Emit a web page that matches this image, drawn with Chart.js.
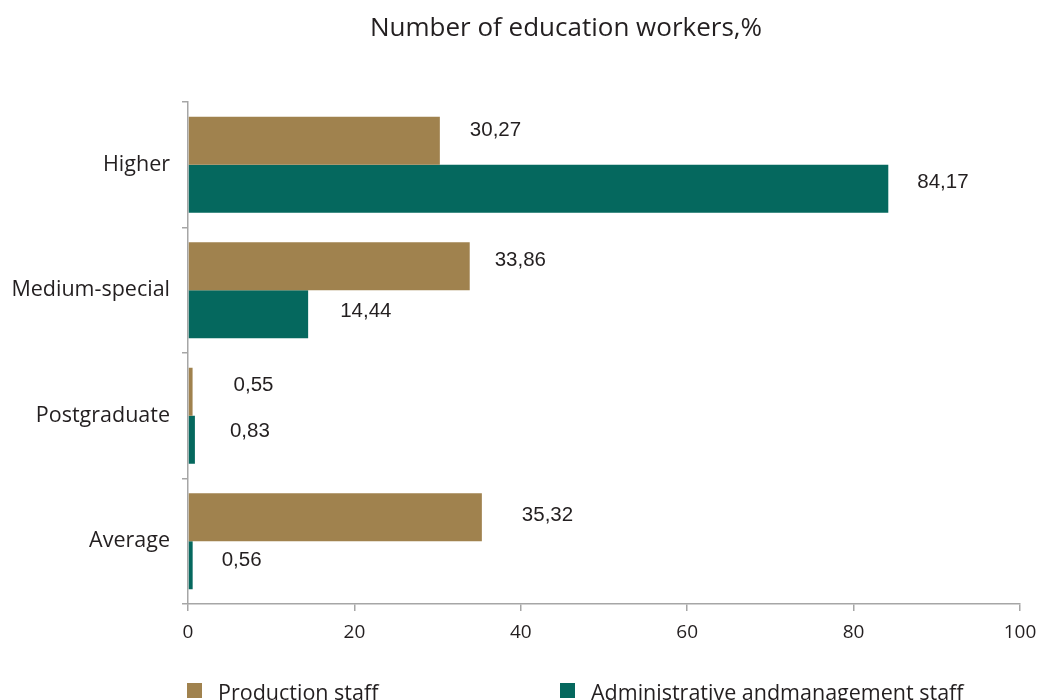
<!DOCTYPE html>
<html>
<head>
<meta charset="utf-8">
<script src="https://cdn.jsdelivr.net/npm/chart.js@4.4.0/dist/chart.umd.min.js"></script>
<style>
    html, body { margin: 0; padding: 0; background: #fff; overflow: hidden; }
    #wrap { width: 1038px; height: 700px; position: relative; }
</style>
</head>
<body>
<div id="wrap"><canvas id="edu-chart"></canvas></div>
<script>
// Data
var categories = ["Higher", "Medium-special", "Postgraduate", "Average"];
var productionStaff = [30.27, 33.86, 0.55, 35.32];
var adminStaff = [84.17, 14.44, 0.83, 0.56];
var seriesNames = ["Production staff", "Administrative andmanagement staff"];
var chartTitle = "Number of education workers,%";
var xTicks = [0, 20, 40, 60, 80, 100];

var colors = ["#a0824e", "#05685e"];

// label offsets from bar end (px), per dataset / category
var labelDx = [[30, 25, 41, 40], [29, 32, 35, 29]];
var labelDy = [[-10, -6, -6, -2], [-6, -3, -8, -5]];

function formatComma(v) {
    return v.toFixed(2).replace('.', ',');
}

// title (sits a bit right of page centre, like the original)
var topTitle = {
    id: 'topTitle',
    afterDraw: function (chart) {
        var ctx = chart.ctx;
        ctx.save();
        ctx.font = '26px "Open Sans", sans-serif';
        ctx.fillStyle = '#231f20';
        ctx.textAlign = 'center';
        ctx.textBaseline = 'middle';
        ctx.fillText(chartTitle, 566, 29);
        ctx.restore();
    }
};

// value labels next to bars
var valueLabels = {
    id: 'valueLabels',
    afterDatasetsDraw: function (chart) {
        var ctx = chart.ctx;
        ctx.save();
        ctx.font = '20.5px "Liberation Sans", Arial, sans-serif';
        ctx.fillStyle = '#231f20';
        ctx.textAlign = 'left';
        ctx.textBaseline = 'middle';
        chart.data.datasets.forEach(function (ds, di) {
            var meta = chart.getDatasetMeta(di);
            meta.data.forEach(function (bar, i) {
                ctx.fillText(formatComma(ds.data[i]), bar.x + labelDx[di][i], bar.y + labelDy[di][i]);
            });
        });
        ctx.restore();
    }
};

// legend at the bottom (cut by page edge like the original)
var bottomLegend = {
    id: 'bottomLegend',
    afterDraw: function (chart) {
        var ctx = chart.ctx;
        var xs = [187, 560];
        ctx.save();
        ctx.font = '21.5px "Open Sans", sans-serif';
        ctx.textBaseline = 'alphabetic';
        chart.data.datasets.forEach(function (ds, di) {
            ctx.fillStyle = ds.backgroundColor;
            ctx.fillRect(xs[di], 683, 15, 15);
            ctx.fillStyle = '#231f20';
            ctx.fillText(ds.label, xs[di] + 31, 700);
        });
        ctx.restore();
    }
};

var eduCanvas = document.getElementById("edu-chart");
var eduChart = new Chart(eduCanvas, {
    type: 'bar',
    data: {
        labels: categories,
        datasets: [
            {
                label: seriesNames[0],
                data: productionStaff,
                backgroundColor: colors[0]
            },
            {
                label: seriesNames[1],
                data: adminStaff,
                backgroundColor: colors[1]
            }
        ]
    },
    options: {
        indexAxis: 'y',
        responsive: true,
        maintainAspectRatio: false,
        animation: false,
        categoryPercentage: 0.765,
        barPercentage: 1.0,
        layout: {
            padding: { left: 0, right: 18, top: 102, bottom: 0 }
        },
        scales: {
            x: {
                type: 'linear',
                min: 0,
                max: 100,
                afterBuildTicks: function (scale) {
                    scale.ticks = xTicks.map(function (v) { return { value: v }; });
                },
                afterFit: function (scale) {
                    scale.height = 96;
                    scale.paddingRight = 0;
                    scale.paddingLeft = 0;
                },
                grid: {
                    drawOnChartArea: false,
                    drawTicks: true,
                    tickLength: 7,
                    color: '#a6a6a6',
                    lineWidth: 1.5
                },
                border: { color: '#a6a6a6', width: 1.5 },
                ticks: {
                    padding: 10,
                    color: '#231f20',
                    font: { family: '"Open Sans", sans-serif', size: 19 }
                }
            },
            y: {
                afterFit: function (scale) {
                    scale.width = 188;
                },
                grid: {
                    drawOnChartArea: false,
                    drawTicks: true,
                    tickLength: 6,
                    color: '#a6a6a6',
                    lineWidth: 1.5
                },
                border: { color: '#a6a6a6', width: 1.5 },
                ticks: {
                    padding: 12,
                    color: '#231f20',
                    font: { family: '"Open Sans", sans-serif', size: 21.5 }
                }
            }
        },
        plugins: {
            legend: { display: false },
            tooltip: { enabled: false },
            title: { display: false }
        }
    },
    plugins: [topTitle, valueLabels, bottomLegend]
});
</script>
</body>
</html>
